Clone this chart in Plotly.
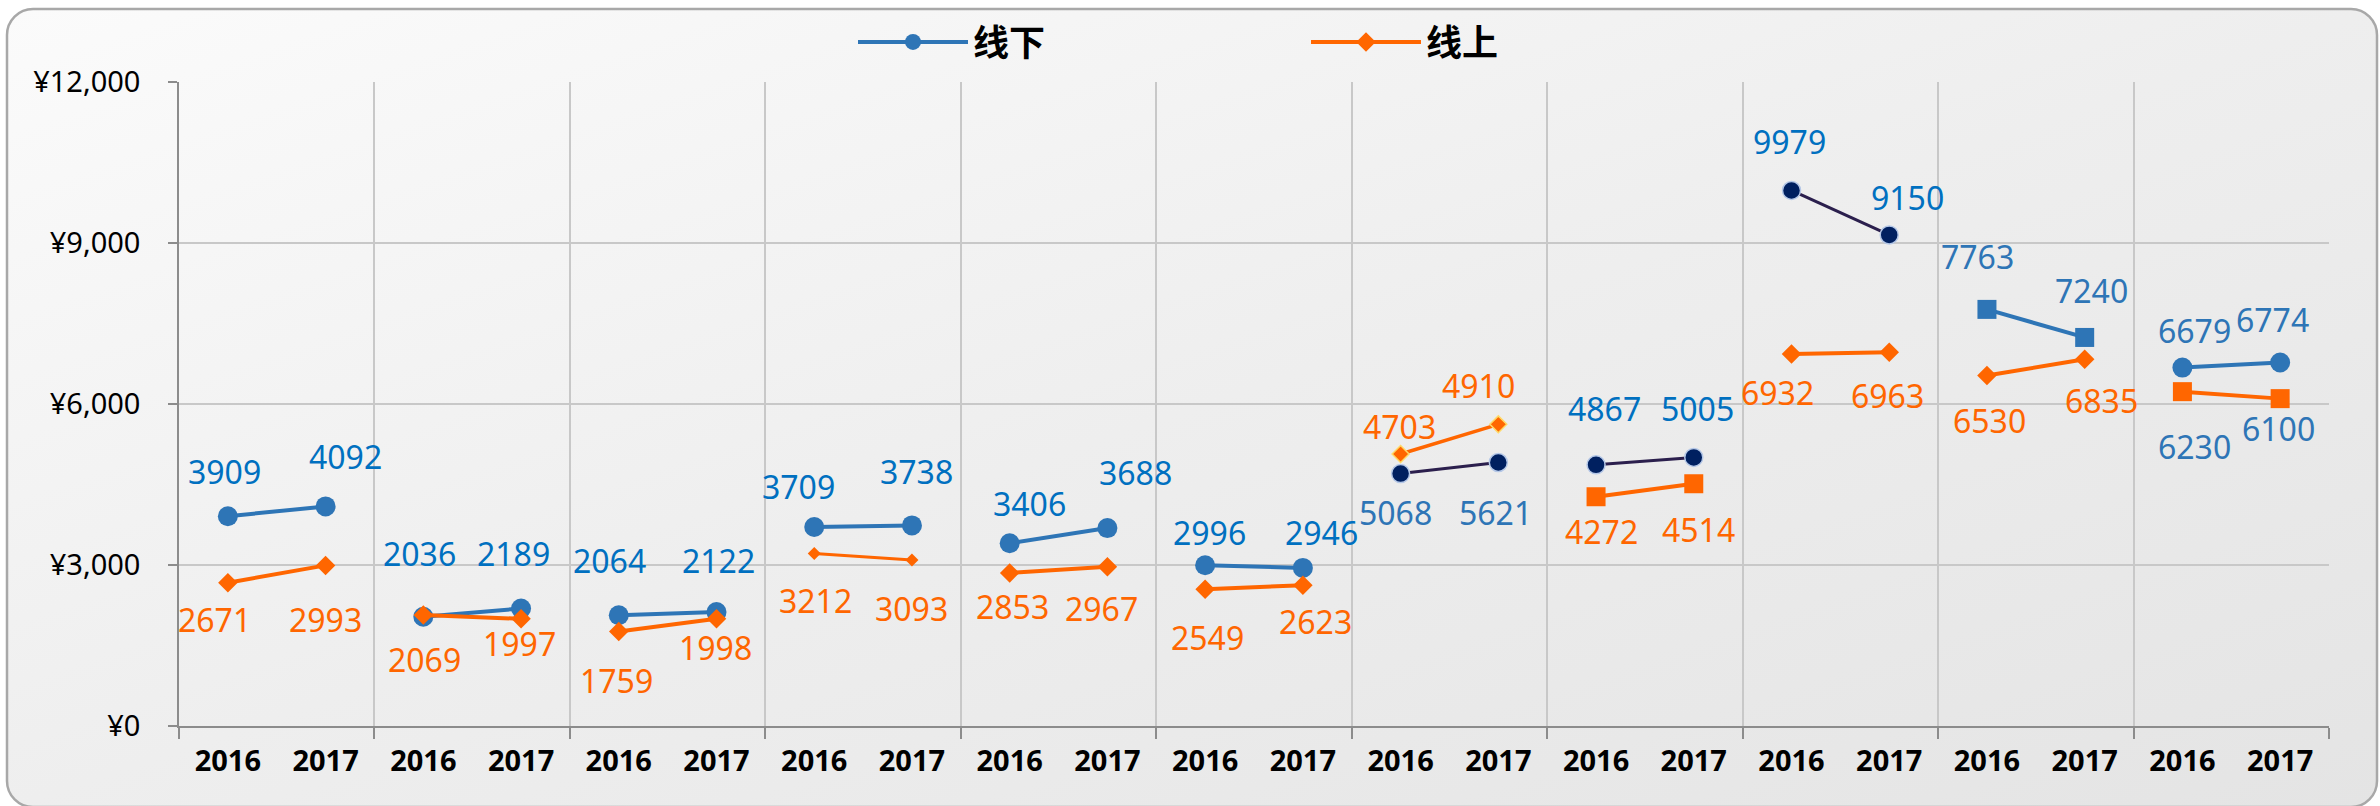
import base64
import plotly.graph_objects as go

# ---------------- data ----------------
years = ["2016", "2017"]
offline_2016 = [3909, 2036, 2064, 3709, 3406, 2996, 4703, 4867, 9979, 7763, 6679]
offline_2017 = [4092, 2189, 2122, 3738, 3688, 2946, 4910, 5005, 9150, 7240, 6774]
online_2016 = [2671, 2069, 1759, 3212, 2853, 2549, 5068, 4272, 6932, 6530, 6230]
online_2017 = [2993, 1997, 1998, 3093, 2967, 2623, 5621, 4514, 6963, 6835, 6100]

# data-label texts as printed on the chart (group 7 labels are swapped in the original)
offline_labels = ["3909", "4092", "2036", "2189", "2064", "2122", "3709", "3738", "3406", "3688",
                  "2996", "2946", "5068", "5621", "4867", "5005", "9979", "9150", "7763", "7240",
                  "6679", "6774"]
online_labels = ["2671", "2993", "2069", "1997", "1759", "1998", "3212", "3093", "2853", "2967",
                 "2549", "2623", "4703", "4910", "4272", "4514", "6932", "6963", "6530", "6835",
                 "6230", "6100"]
y_ticks = [0, 3000, 6000, 9000, 12000]
y_ticktext = ["¥{:,}".format(v) for v in y_ticks]

# ---------------- label offsets (px, relative to the point) ----------------
off_dx = [-3, 20, -4, -8, -9, 2, -16, 5, 20, 28, 4, 19, -5, -3, 8, 4, -2, 18, -9, 7, 12, -8]
off_dy = [-45, -50, -63, -55, -55, -52, -40, -54, -40, -56, -33, -35, 39, 50, -56, -49, -49, -37, -53, -47, -37, -43]
on_dx = [-13, 0, 1, -2, -2, -1, 1, 0, 3, -6, 2, 13, -1, -20, 5, 5, -14, -2, 3, 17, 12, -2]
on_dy = [37, 54, 45, 25, 49, 29, 47, 48, 34, 42, 48, 36, -28, -39, 35, 46, 39, 43, 45, 41, 55, 30]

# ---------------- styles ----------------
BLUE = "#2E75B6"
BRIGHT = "#0070C0"
NAVY = "#002060"
NAVY_LINE = "#2B1F4D"
ORANGE = "#FF6600"


def off_style(g):
    if g in (6, 7, 8):
        return dict(symbol="circle", color=NAVY, size=18, lc=NAVY_LINE, lw=3,
                    olc="#B4C7E7", olw=1.5)
    if g == 9:
        return dict(symbol="square", color=BLUE, size=19, lc=BLUE, lw=4, olc=BLUE, olw=0)
    return dict(symbol="circle", color=BLUE, size=20, lc=BLUE, lw=4, olc=BLUE, olw=0)


def on_style(g):
    if g == 3:
        return dict(symbol="diamond", color=ORANGE, size=10, lc=ORANGE, lw=3, olc=ORANGE, olw=0)
    if g == 6:
        return dict(symbol="diamond", color=ORANGE, size=13, lc=ORANGE, lw=3.5,
                    olc="#FFD966", olw=1.5)
    if g in (7, 10):
        return dict(symbol="square", color=ORANGE, size=19, lc=ORANGE, lw=4, olc=ORANGE, olw=0)
    return dict(symbol="diamond", color=ORANGE, size=15, lc=ORANGE, lw=4, olc=ORANGE, olw=0)


def off_label_color(g):
    return BLUE if g in (6, 9, 10) else BRIGHT


def on_label_color(g):
    return BLUE if g == 10 else ORANGE


W, H = 2380, 806
L, R, T, B = 179, 51, 82, 80
PW, PH = W - L - R, H - T - B

fig = go.Figure()
annotations = []
n_groups = len(offline_2016)
LABEL_FONT = "Noto Sans, Open Sans, sans-serif"

for g in range(n_groups):
    xs = [2 * g, 2 * g + 1]
    for series, vals, style, labels, dxs, dys, lcol, name in (
        ("off", [offline_2016[g], offline_2017[g]], off_style(g), offline_labels, off_dx, off_dy,
         off_label_color(g), "线下"),
        ("on", [online_2016[g], online_2017[g]], on_style(g), online_labels, on_dx, on_dy,
         on_label_color(g), "线上"),
    ):
        fig.add_trace(go.Scatter(
            x=xs, y=vals, mode="lines+markers", name=name,
            legendgroup=series, showlegend=(g == 0),
            line=dict(color=style["lc"], width=style["lw"]),
            marker=dict(symbol=style["symbol"], color=style["color"], size=style["size"],
                        line=dict(color=style["olc"], width=style["olw"])),
            hoverinfo="skip",
        ))
        for k in range(2):
            i = 2 * g + k
            annotations.append(dict(
                x=xs[k], y=vals[k], xref="x", yref="y", text=labels[i], showarrow=False,
                xshift=dxs[i], yshift=-dys[i], xanchor="center", yanchor="middle",
                font=dict(family=LABEL_FONT, size=32, color=lcol),
            ))

# background: gradient panel with rounded frame
svg = (
    f"<svg xmlns='http://www.w3.org/2000/svg' width='{W}' height='{H}' viewBox='0 0 {W} {H}' "
    "preserveAspectRatio='none'>"
    "<defs><linearGradient id='g' x1='0' y1='0' x2='1' y2='1'>"
    "<stop offset='0' stop-color='#fbfbfb'/><stop offset='0.5' stop-color='#eeeeee'/>"
    "<stop offset='1' stop-color='#e4e4e4'/></linearGradient></defs>"
    f"<rect x='0' y='0' width='{W}' height='{H}' fill='#ffffff'/>"
    f"<rect x='7' y='9' width='{W - 10}' height='{H - 8}' rx='26' ry='26' fill='url(#g)' "
    "stroke='#a8a8a8' stroke-width='2.5'/></svg>"
)
bg_src = "data:image/svg+xml;base64," + base64.b64encode(svg.encode()).decode()

n_points = 2 * n_groups
group_edges = [2 * g - 0.5 for g in range(n_groups + 1)]

ITEM_W = 110
fig.update_layout(
    width=W, height=H,
    margin=dict(l=L, r=R, t=T, b=B, pad=0),
    paper_bgcolor="#ffffff",
    plot_bgcolor="rgba(0,0,0,0)",
    images=[dict(source=bg_src, xref="paper", yref="paper",
                 x=-L / PW, y=1 + T / PH, sizex=W / PW, sizey=H / PH,
                 xanchor="left", yanchor="top", sizing="stretch", layer="below")],
    showlegend=True,
    legend=dict(orientation="h", x=(978 - ITEM_W - 15 - L) / PW, xanchor="left",
                y=1 + (T - 42) / PH, yanchor="middle",
                itemwidth=ITEM_W,
                entrywidth=451 - ITEM_W - 13, entrywidthmode="pixels",
                bgcolor="rgba(0,0,0,0)",
                font=dict(family="Noto Sans CJK SC", size=36, color="#000000", weight="bold")),
    annotations=annotations,
    xaxis=dict(
        range=[-0.5, n_points - 0.5],
        tickmode="array", tickvals=list(range(n_points)), ticktext=years * n_groups,
        ticks="", showgrid=False, zeroline=False,
        showline=True, linecolor="#8c8c8c", linewidth=2,
        tickfont=dict(family="Noto Sans, sans-serif", size=29, color="#000000", weight="bold"),
        ticklabelstandoff=8,
        minor=dict(tickmode="array", tickvals=group_edges, ticks="outside", ticklen=11,
                   tickcolor="#8c8c8c", tickwidth=1.5, showgrid=True,
                   gridcolor="#c8c8c8", gridwidth=1.5),
        fixedrange=True,
    ),
    yaxis=dict(
        range=[0, 12000], tickmode="array", tickvals=y_ticks, ticktext=y_ticktext,
        showgrid=True, gridcolor="#c8c8c8", gridwidth=1.5, zeroline=False,
        showline=True, linecolor="#8c8c8c", linewidth=1.5,
        ticks="outside", ticklen=9, tickcolor="#8c8c8c", tickwidth=1.5,
        ticklabelstandoff=22,
        tickfont=dict(family="Noto Sans, sans-serif", size=29, color="#000000"),
        fixedrange=True,
    ),
)

fig.write_html("out.html")
